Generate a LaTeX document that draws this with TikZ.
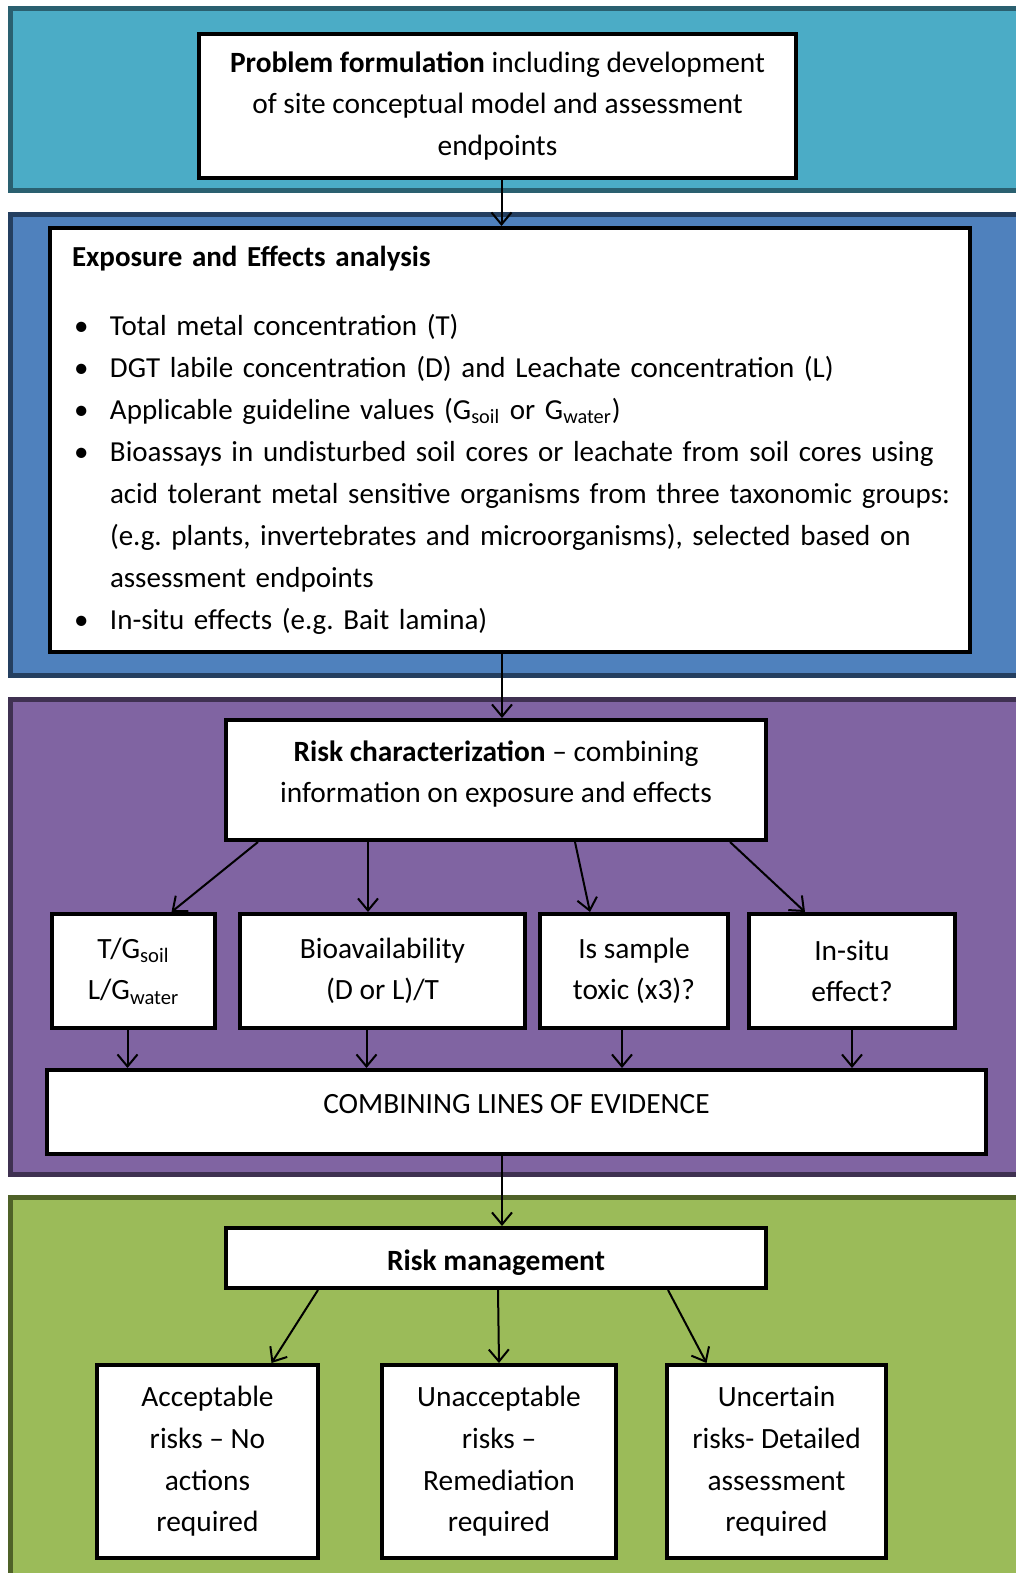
\documentclass[tikz,border=0pt]{standalone}
\usepackage{fontspec}
\setmainfont{Carlito}
\usepackage{tikz}
\usetikzlibrary{positioning,shapes,arrows.meta}
\frenchspacing
\definecolor{tealfill}{HTML}{4BACC6}
\definecolor{tealline}{HTML}{2A6070}
\definecolor{bluefill}{HTML}{4F81BD}
\definecolor{blueline}{HTML}{243F60}
\definecolor{purplefill}{HTML}{8064A2}
\definecolor{purpleline}{HTML}{3F3151}
\definecolor{greenfill}{HTML}{9BBB59}
\definecolor{greenline}{HTML}{4F6228}
\tikzstyle{box} = [rectangle, draw, line width=2pt, fill=white, align=center]
\tikzstyle{panel} = [line width=2.5pt]
\tikzstyle{line} = [->, line width=1pt]
\newcommand{\bulletitem}{\par\hangindent=19pt\hangafter=1\noindent\makebox[19pt][l]{\hspace{1pt}\textbullet}}

\begin{document}
\begin{tikzpicture}[x=0.5pt, y=-0.5pt, font=\fontsize{14.7}{20.8}\selectfont,
  >={Straight Barb[length=6pt,width=10pt]}]
\useasboundingbox (0,0) rectangle (1016,1573);
\fill[white] (0,0) rectangle (1016,1573);
\clip (0,0) rectangle (1016,1573);
% coloured bands
\draw[panel, draw=tealline, fill=tealfill] (10.5,8.5) rectangle (1030,190.5);
\draw[panel, draw=blueline, fill=bluefill] (10.5,214.5) rectangle (1030,675.5);
\draw[panel, draw=purpleline, fill=purplefill] (10.5,699.5) rectangle (1030,1174.5);
\draw[panel, draw=greenline, fill=greenfill] (10.5,1197.5) rectangle (1030,1600);

\node[box, minimum width=298.5pt, minimum height=72pt] (prob) at (497.5,106)
  {\textbf{Problem formulation} including development\\of site conceptual model and assessment\\endpoints};
\node[box, minimum width=460pt, minimum height=212pt, text width=438pt, inner xsep=11pt, align=left,
  font=\fontsize{14.5}{21}\selectfont] (expo) at (510,440)
  {\raggedright\rightskip=0pt plus 1fil minus 20pt
   \textbf{Exposure and Effects analysis}\par\vspace{13.5pt}
   \bulletitem Total metal concentration (T)
   \bulletitem DGT labile concentration (D) and Leachate concentration (L)
   \bulletitem Applicable guideline values (G\textsubscript{soil} or G\textsubscript{water})
   \bulletitem Bioassays in undisturbed soil cores or leachate from soil cores using\newline
     acid tolerant metal sensitive organisms from three taxonomic groups:\newline
     (e.g. plants, invertebrates and microorganisms), selected based on\newline
     assessment endpoints
   \bulletitem In-situ effects (e.g. Bait lamina)};
\node[box, minimum width=270pt, minimum height=60pt, text depth=8.5pt] (riskchar) at (496,780)
  {\textbf{Risk characterization} – combining\\information on exposure and effects};
\node[box, minimum width=81.5pt, minimum height=57pt] (tg) at (133.5,971)
  {T/G\textsubscript{soil}\\L/G\textsubscript{water}};
\node[box, minimum width=142.5pt, minimum height=57pt, right=10.5pt of tg] (bioav)
  {Bioavailability\\(D or L)/T};
\node[box, minimum width=94pt, minimum height=57pt, right=5.5pt of bioav] (toxic)
  {Is sample\\toxic (x3)?};
\node[box, minimum width=103pt, minimum height=57pt, right=8.5pt of toxic] (insitu)
  {In-situ\\effect?};
\node[box, minimum width=469.5pt, minimum height=42pt, text depth=8pt] (combine) at (516.5,1112)
  {COMBINING LINES OF EVIDENCE};
\node[box, minimum width=270pt, minimum height=30pt, text height=12.5pt, text depth=0pt] (riskman) at (496,1258)
  {\textbf{Risk management}};
\node[box, minimum width=110.5pt, minimum height=96.5pt] (accept) at (207.5,1461.5)
  {Acceptable\\risks – No\\actions\\required};
\node[box, minimum width=117pt, minimum height=96.5pt, right=30pt of accept] (unaccept)
  {Unacceptable\\risks –\\Remediation\\required};
\node[box, minimum width=109.5pt, minimum height=96.5pt, right=23.5pt of unaccept] (uncertain)
  {Uncertain\\risks- Detailed\\assessment\\required};

\draw[line] ([xshift=2pt]prob.south) -- ([xshift=2pt]prob.south |- expo.north);
\draw[line] ([xshift=3pt]riskchar.north |- expo.south) -- ([xshift=3pt]riskchar.north);
\draw[line] ([xshift=17pt]riskchar.south west) -- ([xshift=19pt]tg.north);
\draw[line] ([xshift=72pt]riskchar.south west) -- ([xshift=72pt]riskchar.south west |- bioav.north);
\draw[line] ([xshift=175.5pt]riskchar.south west) -- ([xshift=-22pt]toxic.north);
\draw[line] ([xshift=-19pt]riskchar.south east) -- ([xshift=-23.5pt]insitu.north);
\draw[line] ([xshift=-3pt]tg.south) -- ([xshift=-3pt]tg.south |- combine.north);
\draw[line] ([xshift=-8pt]bioav.south) -- ([xshift=-8pt]bioav.south |- combine.north);
\draw[line] ([xshift=-6pt]toxic.south) -- ([xshift=-6pt]toxic.south |- combine.north);
\draw[line] (insitu.south) -- (insitu.south |- combine.north);
\draw[line] ([xshift=3pt]riskman.north |- combine.south) -- ([xshift=3pt]riskman.north);
\draw[line] ([xshift=47pt]riskman.south west) -- ([xshift=32pt]accept.north);
\draw[line] ([xshift=1pt]riskman.south) -- (unaccept.north);
\draw[line] ([xshift=-50pt]riskman.south east) -- ([xshift=-35pt]uncertain.north);
\end{tikzpicture}
\end{document}
